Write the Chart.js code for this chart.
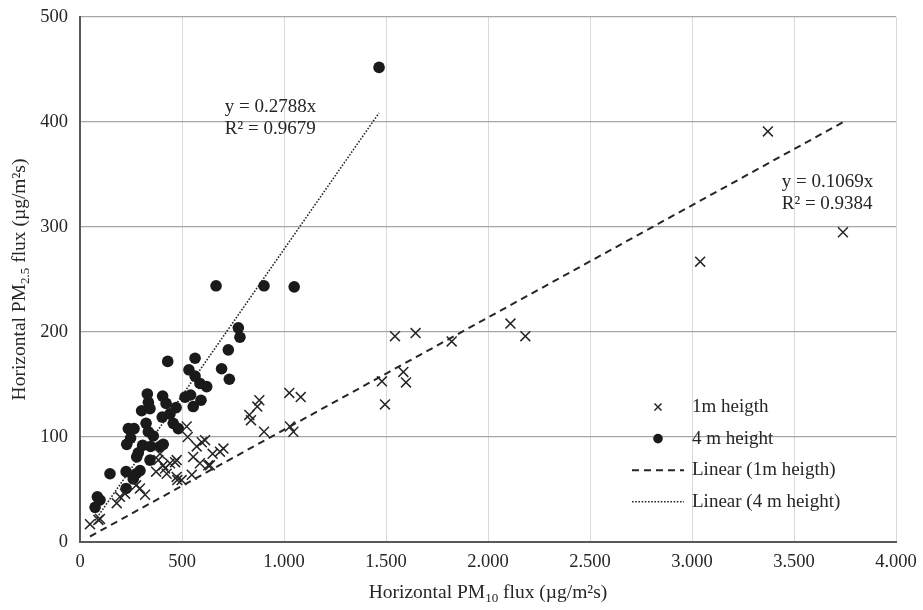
<!DOCTYPE html>
<html>
<head>
<meta charset="utf-8">
<script src="https://cdn.jsdelivr.net/npm/chart.js@4.4.1/dist/chart.umd.min.js"></script>
<style>
  body { margin: 0; background: #fff; }
  #wrap { width: 923px; height: 610px; }
</style>
</head>
<body>
<div id="wrap"><canvas id="fluxChart"></canvas></div>
<script>
// horizontal PM10 flux (x) vs PM2.5 flux (y), 1m sampler
pm10At1m = [49, 90, 98, 180, 196, 221, 275, 294, 319, 392, 384, 373, 408, 425, 441, 474, 474, 477,
  523, 528, 572, 597, 613, 703, 686, 650, 555, 588, 629, 548, 417, 466, 498, 637,
  830, 838, 869, 879, 902, 1026, 1082, 1029, 1046, 1480, 1495, 1544, 1645, 1585, 1598, 1822,
  2110, 2183, 3040, 3372, 3740];
pm25At1m = [17, 21, 22, 37, 43, 46, 54, 51, 45, 84, 78, 67, 73, 65, 75, 78, 62, 59,
  110, 100, 91, 95, 97, 89, 86, 84, 81, 75, 73, 64, 70, 76, 59, 73,
  121, 116, 129, 135, 105, 142, 138, 110, 105, 153, 131, 196, 199, 162, 152, 191,
  208, 196, 267, 391, 295];

// 4 m sampler
pm10At4m = [776, 784, 727, 694, 732, 430, 564, 534, 564, 588, 621, 593, 555, 515, 542, 330, 335,
  405, 422, 302, 343, 471, 441, 403, 324, 457, 482, 237, 265, 335, 359, 248, 229, 307, 346,
  392, 408, 286, 278, 343, 147, 226, 294, 275, 261, 226, 85, 98, 74, 667, 902, 1050, 1466];
pm25At4m = [204, 195, 183, 165, 155, 172, 175, 164, 158, 151, 148, 135, 129, 138, 140, 141, 133,
  139, 132, 125, 127, 128, 122, 119, 113, 113, 108, 108, 108, 105, 101, 99, 93, 92, 91,
  91, 93, 85, 81, 78, 65, 67, 68, 65, 60, 51, 43, 40, 33, 244, 244, 243, 452];

seriesLabels = ['1m heigth', '4 m height', 'Linear (1m heigth)', 'Linear (4 m height)'];
trendSlopes = [0.1069, 0.2788];
trendR2 = ['0.9384', '0.9679'];
xMax = 4000;
yMax = 500;

const SERIF = '"Liberation Serif", "Times New Roman", serif';
const INK = '#262626';

function pairs(xs, ys){
  return xs.map((x, i) => ({x: x, y: ys[i]}));
}

// straight trendline through origin across the series' x range
function trendPoints(xs, slope){
  const lo = Math.min(...xs);
  const hi = Math.max(...xs);
  return [{x: lo, y: slope * lo}, {x: hi, y: slope * hi}];
}

function dotThousands(v){
  return String(v).replace(/\B(?=(\d{3})+(?!\d))/g, '.');
}

// text runs with optional subscript pieces
function drawRich(ctx, parts, x, y){
  let total = 0;
  parts.forEach(p => {
    ctx.font = (p[1] ? '13px ' : '19.5px ') + SERIF;
    total += ctx.measureText(p[0]).width;
  });
  let cx = x - total / 2;
  ctx.textAlign = 'left';
  ctx.textBaseline = 'middle';
  parts.forEach(p => {
    ctx.font = (p[1] ? '13px ' : '19.5px ') + SERIF;
    ctx.fillText(p[0], cx, y + (p[1] ? 6 : 0));
    cx += ctx.measureText(p[0]).width;
  });
}

const extras = {
  id: 'extras',
  afterDraw(chart){
    const ctx = chart.ctx;
    const area = chart.chartArea;
    const xs = chart.scales.x, ys = chart.scales.y;
    ctx.save();
    ctx.fillStyle = INK;

    // axis titles
    drawRich(ctx, [['Horizontal PM', false], ['10', true], [' flux (µg/m²s)', false]],
      (area.left + area.right) / 2, 593);
    ctx.save();
    ctx.translate(20, (area.top + area.bottom) / 2);
    ctx.rotate(-Math.PI / 2);
    drawRich(ctx, [['Horizontal PM', false], ['2.5', true], [' flux (µg/m²s)', false]], 0, 0);
    ctx.restore();

    // trendline equations
    ctx.font = '19px ' + SERIF;
    ctx.textAlign = 'left';
    ctx.textBaseline = 'middle';
    const eqPos = [[3440, 343], [710, 414]];
    trendSlopes.forEach((s, i) => {
      const px = xs.getPixelForValue(eqPos[i][0]);
      const py = ys.getPixelForValue(eqPos[i][1]);
      ctx.fillText('y = ' + s + 'x', px, py);
      ctx.fillText('R² = ' + trendR2[i], px, py + 22);
    });

    // legend inside the plot
    const mx = area.left + 578, lx0 = area.left + 552, lx1 = area.left + 604, tx = area.left + 612;
    chart.data.datasets.forEach((ds, i) => {
      const y = 407 + i * 31.6;
      ctx.strokeStyle = INK;
      ctx.fillStyle = INK;
      if (ds.showLine) {
        ctx.beginPath();
        ctx.lineWidth = ds.borderWidth;
        ctx.setLineDash(ds.borderDash);
        ctx.moveTo(lx0, y);
        ctx.lineTo(lx1, y);
        ctx.stroke();
        ctx.setLineDash([]);
      } else {
        ctx.fillStyle = ds.backgroundColor;
        ctx.lineWidth = ds.borderWidth;
        Chart.helpers.drawPoint(ctx, {pointStyle: ds.pointStyle, radius: ds.pointStyle === 'circle' ? 4.8 : 5,
          borderWidth: ds.borderWidth, rotation: 0}, mx, y);
      }
      ctx.fillStyle = INK;
      ctx.font = '19px ' + SERIF;
      ctx.fillText(ds.label, tx, y);
    });
    ctx.restore();
  }
};

new Chart(document.getElementById('fluxChart'), {
  type: 'scatter',
  data: {
    datasets: [
      {
        label: seriesLabels[0],
        data: pairs(pm10At1m, pm25At1m),
        pointStyle: 'crossRot',
        pointRadius: 7,
        borderWidth: 1.5,
        borderColor: INK,
        backgroundColor: INK
      },
      {
        label: seriesLabels[1],
        data: pairs(pm10At4m, pm25At4m),
        pointStyle: 'circle',
        pointRadius: 5.8,
        borderWidth: 0,
        borderColor: '#1a1a1a',
        backgroundColor: '#1a1a1a'
      },
      {
        label: seriesLabels[2],
        data: trendPoints(pm10At1m, trendSlopes[0]),
        showLine: true,
        pointRadius: 0,
        borderWidth: 2,
        borderDash: [7, 5],
        borderColor: INK
      },
      {
        label: seriesLabels[3],
        data: trendPoints(pm10At4m, trendSlopes[1]),
        showLine: true,
        pointRadius: 0,
        borderWidth: 1.6,
        borderDash: [1.6, 1.6],
        borderColor: INK
      }
    ]
  },
  options: {
    responsive: true,
    maintainAspectRatio: false,
    animation: false,
    layout: { padding: { top: 17, right: 27, left: 0, bottom: 0 } },
    plugins: { legend: { display: false }, tooltip: { enabled: false } },
    scales: {
      x: {
        type: 'linear',
        min: 0,
        max: xMax,
        afterFit: s => { s.height = 68; s.paddingLeft = 0; s.paddingRight = 0; },
        ticks: { stepSize: 500, padding: 9, color: INK, font: { family: SERIF, size: 18.5 },
          callback: v => dotThousands(v) },
        grid: { color: '#d9d9d9', lineWidth: 1, drawTicks: false },
        border: { color: '#595959', width: 2 }
      },
      y: {
        min: 0,
        max: yMax,
        afterFit: s => { s.width = 80; s.paddingTop = 0; s.paddingBottom = 0; },
        ticks: { stepSize: 100, padding: 12, color: INK, font: { family: SERIF, size: 18.5 } },
        grid: { color: '#a6a6a6', lineWidth: 1.2, drawTicks: false },
        border: { color: '#595959', width: 2 }
      }
    }
  },
  plugins: [extras]
});
</script>
</body>
</html>
